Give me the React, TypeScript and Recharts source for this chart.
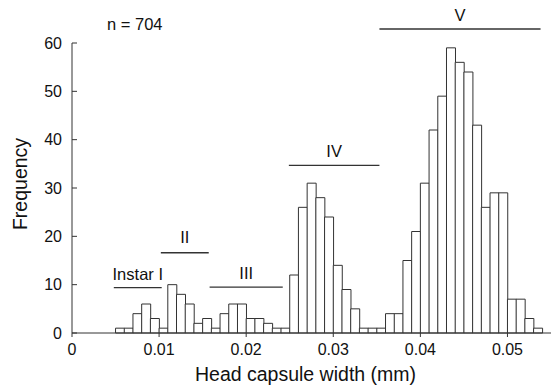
import { BarChart, Bar, XAxis, YAxis, ReferenceLine, Label } from "recharts";

// histogram bins, 0.001 mm wide (bin start, mm)
const binStarts = [
  0.000, 0.001, 0.002, 0.003, 0.004,
  0.005, 0.006, 0.007, 0.008, 0.009,
  0.010, 0.011, 0.012, 0.013, 0.014,
  0.015, 0.016, 0.017, 0.018, 0.019,
  0.020, 0.021, 0.022, 0.023, 0.024,
  0.025, 0.026, 0.027, 0.028, 0.029,
  0.030, 0.031, 0.032, 0.033, 0.034,
  0.035, 0.036, 0.037, 0.038, 0.039,
  0.040, 0.041, 0.042, 0.043, 0.044,
  0.045, 0.046, 0.047, 0.048, 0.049,
  0.050, 0.051, 0.052, 0.053, 0.054,
];
const binWidth = 0.001;

const counts = [
  0, 0, 0, 0, 0,
  1, 1, 4, 6, 3,
  1, 10, 8, 6, 2,
  3, 1, 4, 6, 6,
  3, 3, 2, 1, 1,
  12, 26, 31, 28, 24,
  14, 9, 5, 1, 1,
  1, 4, 4, 15, 21,
  31, 42, 49, 59, 56,
  54, 43, 26, 29, 29,
  7, 7, 3, 1, 0,
];

const xTicks = [0, 0.01, 0.02, 0.03, 0.04, 0.05];
const yTicks = [0, 10, 20, 30, 40, 50, 60];

// instar groupings drawn above the peaks
const instarNames = ["Instar I", "II", "III", "IV", "V"];
const instarFrom = [0.0048, 0.0102, 0.0158, 0.0249, 0.0353];
const instarTo = [0.0103, 0.0157, 0.0242, 0.0353, 0.0538];
const instarLevel = [9.4, 16.6, 9.5, 34.7, 62.9];

const sampleSize = 704;

const data = binStarts.map((b, i) => ({ mid: b + binWidth / 2, count: counts[i] }));

const FONT = "'Liberation Sans', Arial, sans-serif";
const INK = "#111";
const LINE = "#333";

const fmt = (v: number) => (v === 0 ? "0" : v.toFixed(2));

export default function App() {
  return (
    <div
      style={{
        position: "absolute",
        left: 0,
        top: 0,
        width: 557,
        height: 387,
        background: "#fff",
        fontFamily: FONT,
      }}
    >
      <BarChart
        width={557}
        height={387}
        data={data}
        margin={{ top: 43, right: 6, bottom: 0, left: 0 }}
        barCategoryGap={0}
        barGap={0}
        style={{ fontFamily: FONT }}
      >
        <XAxis
          dataKey="mid"
          type="number"
          domain={[0, 0.055]}
          ticks={xTicks}
          tickFormatter={fmt}
          height={54}
          tickSize={4}
          tickMargin={7}
          axisLine={{ stroke: LINE }}
          tickLine={{ stroke: LINE }}
          tick={{ fill: INK, fontSize: 16 }}
          allowDataOverflow
        >
          <Label
            value="Head capsule width (mm)"
            position="insideBottom"
            offset={6}
            dx={-6}
            fill={INK}
            fontSize={19.5}
          />
        </XAxis>
        <YAxis
          width={72}
          domain={[0, 60]}
          ticks={yTicks}
          tickSize={-5}
          tickMargin={15}
          axisLine={{ stroke: LINE }}
          tickLine={{ stroke: LINE }}
          tick={{ fill: INK, fontSize: 16 }}
          label={({ viewBox }: any) => {
            const cx = viewBox.x + 20;
            const cy = viewBox.y + viewBox.height / 2 - 4;
            return (
              <text
                x={cx}
                y={cy}
                transform={`rotate(-90, ${cx}, ${cy})`}
                textAnchor="middle"
                dominantBaseline="central"
                fill={INK}
                fontSize={19.5}
              >
                Frequency
              </text>
            );
          }}
        />
        <Bar
          dataKey="count"
          fill="#fff"
          stroke={LINE}
          strokeWidth={1}
          isAnimationActive={false}
        />
        {instarNames.map((name, i) => (
          <ReferenceLine
            key={name}
            segment={[
              { x: instarFrom[i], y: instarLevel[i] },
              { x: instarTo[i], y: instarLevel[i] },
            ]}
            ifOverflow="visible"
            stroke={LINE}
            strokeWidth={1.3}
          >
            <Label
              value={name}
              position="top"
              offset={i === 1 ? 10 : 8}
              fill={INK}
              fontSize={16.5}
            />
          </ReferenceLine>
        ))}
      </BarChart>
      <div
        style={{
          position: "absolute",
          left: 107,
          top: 15,
          fontSize: 16.5,
          color: INK,
          lineHeight: "18px",
        }}
      >
        n = {sampleSize}
      </div>
    </div>
  );
}
